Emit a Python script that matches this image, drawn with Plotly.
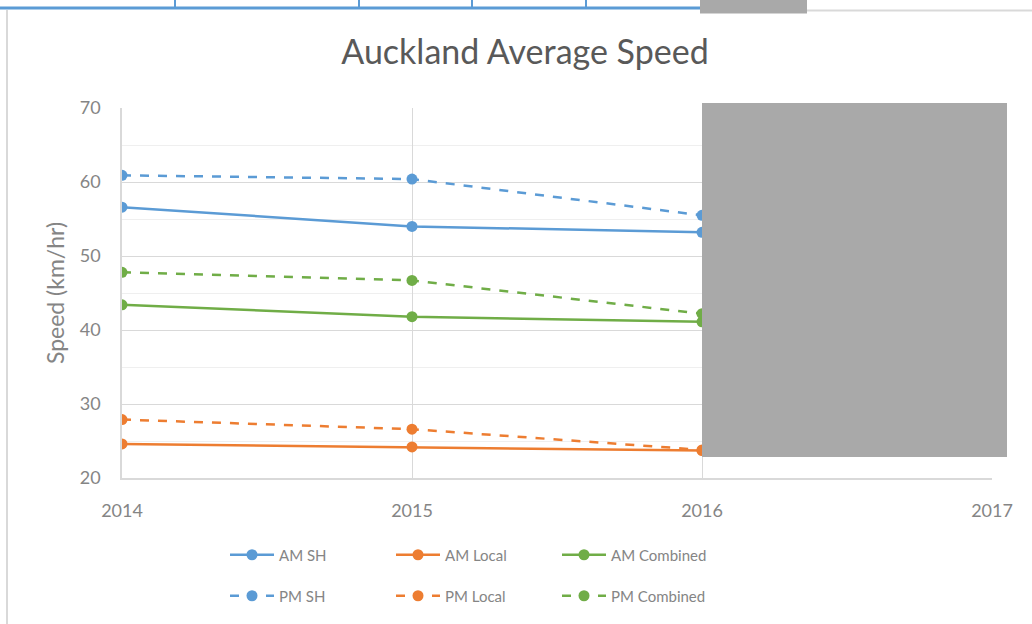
import plotly.graph_objects as go

years = [2014, 2015, 2016]
am_sh = [56.6, 54.0, 53.2]
am_local = [24.6, 24.2, 23.7]
am_combined = [43.4, 41.8, 41.1]
pm_sh = [60.9, 60.4, 55.5]
pm_local = [27.9, 26.6, 23.8]
pm_combined = [47.8, 46.7, 42.2]

BLUE = "#5B9BD5"
ORANGE = "#ED7D31"
GREEN = "#70AD47"
FONT = "Lato, 'Open Sans', sans-serif"
GREY_TXT = "#858585"

W, H = 1032, 624
L, R, T, B = 122, 992, 108, 478


def px(x):
    return (x - L) / (R - L)


def py(y):
    return (B - y) / (B - T)


fig = go.Figure()
series = [
    ("AM SH", am_sh, BLUE, "solid", "legend"),
    ("AM Local", am_local, ORANGE, "solid", "legend"),
    ("AM Combined", am_combined, GREEN, "solid", "legend"),
    ("PM SH", pm_sh, BLUE, "dash", "legend2"),
    ("PM Local", pm_local, ORANGE, "dash", "legend2"),
    ("PM Combined", pm_combined, GREEN, "dash", "legend2"),
]
for name, vals, col, dash, leg in series:
    fig.add_trace(go.Scatter(
        x=years, y=vals, name=name, mode="lines+markers",
        line=dict(color=col, width=2.5, dash=dash),
        marker=dict(color=col, size=11, symbol="circle"),
        legend=leg,
    ))

legend_common = dict(
    orientation="h", xanchor="left", yanchor="middle",
    font=dict(family=FONT, size=15, color=GREY_TXT),
    entrywidth=107, entrywidthmode="pixels", itemwidth=44,
    bgcolor="rgba(0,0,0,0)", itemclick=False,
)

shapes = [
    # chart area border
    dict(type="line", xref="paper", yref="paper", x0=px(7), x1=px(7), y0=py(10), y1=py(624),
         line=dict(color="#d9d9d9", width=2)),
    dict(type="line", xref="paper", yref="paper", x0=px(807), x1=px(1032), y0=py(10.5), y1=py(10.5),
         line=dict(color="#d9d9d9", width=2)),
    # spreadsheet header strip
    dict(type="line", xref="paper", yref="paper", x0=px(0), x1=px(700), y0=py(8), y1=py(8),
         line=dict(color=BLUE, width=3)),
    dict(type="rect", xref="paper", yref="paper", x0=px(700), x1=px(807), y0=py(0), y1=py(13.5),
         fillcolor="#a9a9a9", line=dict(width=0)),
    # redaction box
    dict(type="rect", xref="paper", yref="paper", x0=px(702), x1=px(1007), y0=py(457), y1=py(103),
         fillcolor="#a9a9a9", line=dict(width=0), layer="above"),
]
for tx in [175, 359, 472, 586]:
    shapes.append(dict(type="line", xref="paper", yref="paper", x0=px(tx), x1=px(tx),
                       y0=py(0), y1=py(8), line=dict(color=BLUE, width=2)))

fig.update_layout(
    width=W, height=H,
    margin=dict(l=L, r=W - R, t=T, b=H - B),
    paper_bgcolor="white", plot_bgcolor="white",
    title=dict(text="Auckland Average Speed", xref="container", x=525 / W, xanchor="center",
               y=1 - 52 / H, yanchor="middle",
               font=dict(family=FONT, size=34, color="#595959")),
    xaxis=dict(range=[2014, 2017], dtick=1, tick0=2014, showgrid=True,
               gridcolor="#d9d9d9", gridwidth=1, zeroline=False,
               showline=True, linecolor="#d9d9d9", linewidth=1.5,
               ticks="", ticklabelstandoff=16,
               tickfont=dict(family=FONT, size=18, color=GREY_TXT)),
    yaxis=dict(range=[20, 70], dtick=10, tick0=20, showgrid=True,
               gridcolor="#d9d9d9", gridwidth=1, zeroline=False,
               showline=True, linecolor="#d9d9d9", linewidth=1.5,
               minor=dict(dtick=5, showgrid=True, gridcolor="#efefef", gridwidth=1),
               ticks="", ticklabelstandoff=16,
               tickfont=dict(family=FONT, size=18, color=GREY_TXT),
               title=dict(text="Speed (km/hr)", standoff=9,
                          font=dict(family=FONT, size=23, color=GREY_TXT))),
    legend=dict(x=px(225), y=py(555), **legend_common),
    legend2=dict(x=px(225), y=py(596), **legend_common),
    shapes=shapes,
    showlegend=True,
)

fig.write_html("out.html", config={"displayModeBar": False},
               post_script="document.body.style.margin='0';document.body.style.padding='0';")
